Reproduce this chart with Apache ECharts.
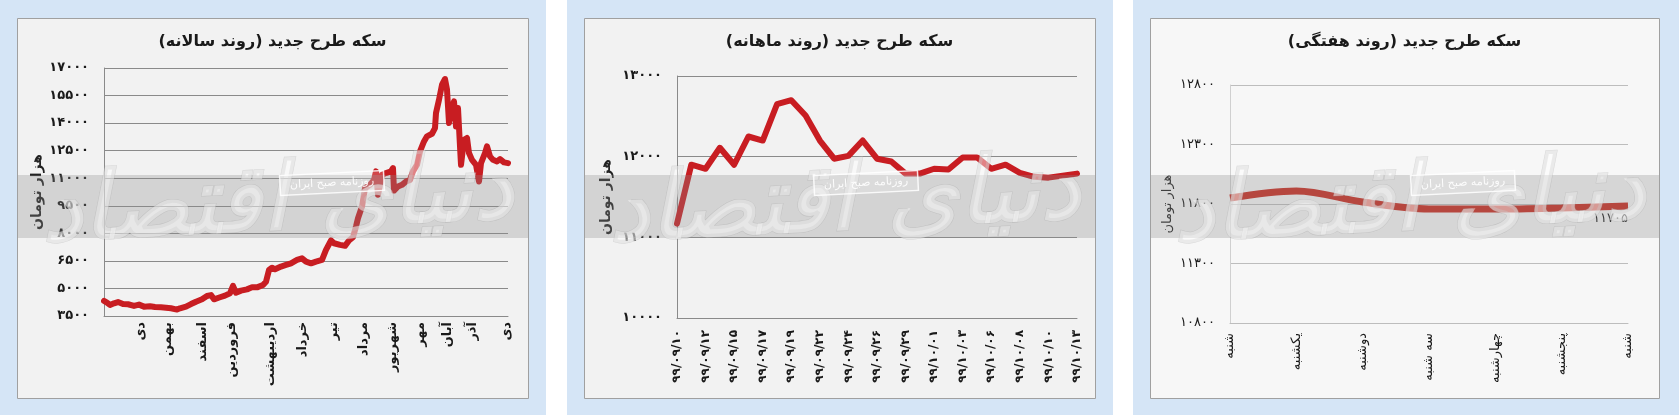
<!DOCTYPE html>
<html><head><meta charset="utf-8">
<script src="https://cdn.jsdelivr.net/npm/echarts@6/dist/echarts.min.js"></script>
<style>html,body{margin:0;padding:0;background:#fff}#c{width:1679px;height:415px}</style>
</head><body><div id="c"></div>
<script>
// ---------- DATA ----------
const titles = ['سکه طرح جدید (روند سالانه)', 'سکه طرح جدید (روند ماهانه)', 'سکه طرح جدید (روند هفتگی)'];
const yName = 'هزار تومان';

// yearly panel (x = day index from start of series)
const yearDays = [0,3,6,10,14,19,24,30,35,40,46,51,57,62,67,73,76,82,87,92,98,103,107,110,116,121,126,129,132,137,143,148,153,159,162,165,168,171,177,182,187,193,198,202,207,212,218,222,227,230,236,241,245,249,252,254,258,261,266,270,272,274,278,282,287,289,290,294,298,302,306,309,313,316,320,323,328,331,332,335,338,341,343,345,347,350,352,354,356,357,360,363,365,368,372,375,377,381,383,386,389,393,396,400,404];
const yearValues = [4320,4230,4100,4190,4260,4150,4140,4050,4120,4010,4030,3990,3970,3950,3920,3850,3920,4010,4150,4280,4410,4590,4640,4410,4520,4610,4740,5140,4770,4880,4950,5060,5060,5190,5370,6010,6130,6040,6190,6280,6370,6550,6640,6460,6370,6460,6550,7100,7610,7460,7370,7320,7610,7790,8370,8820,9460,10460,10640,10910,11370,10100,11190,11280,11370,11550,10330,10550,10640,10820,10910,11370,11730,12460,13000,13280,13420,13730,14550,15270,16090,16400,15820,14000,14730,15180,13820,14820,12730,11730,13090,13190,12370,12000,11730,10820,11820,12370,12730,12190,12000,11910,12040,11860,11820];
const yearMonthNames = ['دی','بهمن','اسفند','فروردین','اردیبهشت','خرداد','تیر','مرداد','شهریور','مهر','آبان','آذر','دی'];
const yearMonthDays = [37,64,99,128,167,199,230,260,289,317,344,369,403];
const yearAxis = {min: 3500, max: 17000, step: 1500, xMax: 404};

// monthly panel
const monthDates = ['۹۹/۰۹/۱۰','','۹۹/۰۹/۱۲','','۹۹/۰۹/۱۵','','۹۹/۰۹/۱۷','','۹۹/۰۹/۱۹','','۹۹/۰۹/۲۲','','۹۹/۰۹/۲۴','','۹۹/۰۹/۲۶','','۹۹/۰۹/۲۹','','۹۹/۱۰/۰۱','','۹۹/۱۰/۰۳','','۹۹/۱۰/۰۶','','۹۹/۱۰/۰۸','','۹۹/۱۰/۱۰','','۹۹/۱۰/۱۳'];
const monthValues = [11170,11900,11850,12110,11900,12250,12200,12650,12700,12510,12200,11975,12010,12200,11975,11940,11790,11790,11850,11840,11990,11990,11850,11900,11800,11750,11740,11765,11790];
const monthAxis = {min: 10000, max: 13000, step: 1000};

// weekly panel
const weekDays = ['شنبه','یکشنبه','دوشنبه','سه شنبه','چهارشنبه','پنجشنبه','شنبه'];
const weekValues = [11850,11910,11817,11758,11758,11767,11783];
const weekLastLabel = 11705;
const weekAxis = {min: 10800, max: 12800, step: 500};

// ---------- STYLE ----------
const FONT = 'DejaVu Sans';
const RED = '#c81d22';
const fa = s => String(s).replace(/[0-9]/g, d => '۰۱۲۳۴۵۶۷۸۹'[+d]);
const panels = [
  {x: 17, w: 511, grid: {left: 104, right: 1679 - 508, top: 68, bottom: 415 - 316}},
  {x: 584, w: 511, grid: {left: 677, right: 1679 - 1077, top: 76, bottom: 415 - 318}},
  {x: 1150, w: 509, grid: {left: 1230, right: 1679 - 1628, top: 85, bottom: 415 - 323}}
];

const chart = echarts.init(document.getElementById('c'), null, {renderer: 'canvas'});

function yAx(i, ax, gap, weight, gridColor, lineColor) {
  return {
    type: 'value', gridIndex: i, min: ax.min, max: ax.max, interval: ax.step,
    name: yName, nameLocation: 'middle', nameRotate: 90, nameGap: gap,
    nameTextStyle: {fontFamily: FONT, fontSize: i === 2 ? 13 : 14, fontWeight: i === 2 ? 'normal' : 'bold', color: '#222'},
    axisLine: {show: true, lineStyle: {color: lineColor, width: 1}},
    axisTick: {show: false},
    axisLabel: {fontFamily: FONT, fontSize: 13, fontWeight: weight, color: '#1a1a1a', margin: 15, formatter: v => fa(v)},
    splitLine: {show: true, lineStyle: {color: gridColor, width: 1}}
  };
}

const graphics = [];
// blue backgrounds
[[0, 546], [567, 1113], [1133, 1679]].forEach(([a, b]) => graphics.push({type: 'rect', z: -20, shape: {x: a, y: 0, width: b - a, height: 415}, style: {fill: '#d5e5f6'}}));
panels.forEach((p, i) => {
  graphics.push({type: 'rect', z: -10, shape: {x: p.x + 0.5, y: 18.5, width: p.w, height: 380}, style: {fill: i === 2 ? '#f7f7f7' : '#f2f2f2', stroke: '#a0a0a0', lineWidth: 1}});
  graphics.push({type: 'text', z: 5, x: p.x + p.w / 2, y: 42, style: {text: titles[i], font: 'bold 16px "' + FONT + '"', fill: '#1a1a1a', align: 'center', verticalAlign: 'middle'}});
  // grey band of the watermark
  graphics.push({type: 'rect', z: 100, shape: {x: p.x + 1, y: 175, width: p.w - 1, height: 63}, style: {fill: 'rgba(140,140,140,0.30)'}});
  // watermark calligraphy
  graphics.push({type: 'text', z: 101, x: p.x + p.w / 2 + 5, y: 205, rotation: 0.05, style: {text: 'دنیای اقتصاد', font: 'italic bold 92px "' + FONT + '"', fill: 'rgba(255,255,255,0.45)', stroke: 'rgba(160,160,160,0.35)', lineWidth: 1, align: 'center', verticalAlign: 'middle'}});
  // small newspaper box
  const bx = [265, 232, 263][i];
  graphics.push({type: 'group', z: 102, x: p.x + bx + 50, y: 183, rotation: 0.05, children: [
    {type: 'rect', z: 102, shape: {x: -52, y: -10, width: 104, height: 20}, style: {fill: 'rgba(255,255,255,0.18)', stroke: 'rgba(255,255,255,0.85)', lineWidth: 1.5}},
    {type: 'text', z: 103, style: {text: 'روزنامه صبح ایران', font: '11px "' + FONT + '"', fill: 'rgba(255,255,255,0.9)', align: 'center', verticalAlign: 'middle'}}
  ]});
});

const option = {
  backgroundColor: '#ffffff',
  animation: false,
  grid: panels.map(p => Object.assign({outerBoundsMode: 'none', containLabel: false}, p.grid)),
  xAxis: [
    {
      type: 'value', gridIndex: 0, min: 0, max: yearAxis.xMax,
      axisLine: {show: true, onZero: false, lineStyle: {color: '#8a8a8a'}},
      axisTick: {show: false}, splitLine: {show: false},
      axisLabel: {customValues: yearMonthDays, rotate: 90, margin: 6, fontFamily: FONT, fontSize: 13, fontWeight: 'bold', color: '#1a1a1a',
        formatter: v => { const k = yearMonthDays.indexOf(v); return k >= 0 ? yearMonthNames[k] : ''; }}
    },
    {
      type: 'category', gridIndex: 1, data: monthDates, boundaryGap: false,
      axisLine: {show: true, lineStyle: {color: '#8a8a8a'}},
      axisTick: {show: false},
      axisLabel: {interval: 1, rotate: 90, margin: 12, fontFamily: FONT, fontSize: 12, fontWeight: 'bold', color: '#1a1a1a'}
    },
    {
      type: 'category', gridIndex: 2, data: weekDays, boundaryGap: false,
      axisLine: {show: true, lineStyle: {color: '#bdbdbd'}},
      axisTick: {show: false},
      axisLabel: {interval: 0, rotate: 90, margin: 10, fontFamily: FONT, fontSize: 13, color: '#1a1a1a'}
    }
  ],
  yAxis: [
    yAx(0, yearAxis, 60, 'bold', '#8a8a8a', '#8a8a8a'),
    yAx(1, monthAxis, 64, 'bold', '#8a8a8a', '#8a8a8a'),
    yAx(2, weekAxis, 56, 'normal', '#bdbdbd', '#d0d0d0')
  ],
  series: [
    {type: 'line', xAxisIndex: 0, yAxisIndex: 0, data: yearDays.map((d, k) => [d, yearValues[k]]), showSymbol: false, symbol: 'none',
      lineStyle: {color: RED, width: 6, join: 'round', cap: 'round'}},
    {type: 'line', xAxisIndex: 1, yAxisIndex: 1, data: monthValues, showSymbol: false, symbol: 'none',
      lineStyle: {color: RED, width: 6, join: 'round', cap: 'round'}},
    {type: 'line', xAxisIndex: 2, yAxisIndex: 2, data: weekValues, showSymbol: false, symbol: 'none', smooth: 0.35,
      lineStyle: {color: '#c92a1f', width: 7},
      markPoint: {symbol: 'circle', symbolSize: 0, silent: true,
        data: [{coord: [weekValues.length - 1, weekValues[weekValues.length - 1]], value: weekLastLabel}],
        label: {show: true, position: 'bottom', align: 'right', distance: 6, offset: [0, 0], formatter: p => fa(p.value), fontFamily: FONT, fontSize: 13, color: '#1a1a1a'}}}
  ],
  graphic: {elements: graphics}
};
chart.setOption(option);
</script></body></html>
